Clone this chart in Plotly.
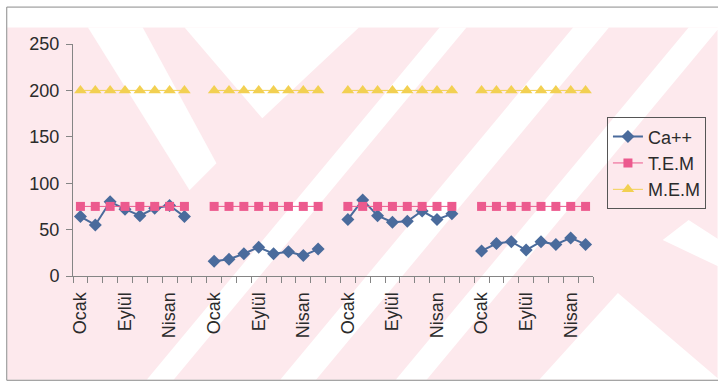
import plotly.graph_objects as go

# Four sampling series of eight months each, separated by an empty slot
ca_g1 = [64, 55, 80, 72, 65, 73, 76, 64]
ca_g2 = [16, 18, 24, 31, 24, 26, 22, 29]
ca_g3 = [61, 82, 65, 58, 59, 70, 61, 67]
ca_g4 = [27, 35, 37, 28, 37, 34, 41, 34]
tem_limit = 75
mem_limit = 200

tick_labels = ["Ocak", "Eylül", "Nisan"] * 4
label_step = 3
group_size = 8

groups = [ca_g1, ca_g2, ca_g3, ca_g4]
xs, ca, tem, mem = [], [], [], []
for gi, g in enumerate(groups):
    base = gi * (group_size + 1)
    for i, v in enumerate(g):
        xs.append(base + i)
        ca.append(v)
        tem.append(tem_limit)
        mem.append(mem_limit)
    if gi < len(groups) - 1:
        xs.append(base + group_size)
        ca.append(None)
        tem.append(None)
        mem.append(None)

n_slots = len(groups) * (group_size + 1) - 1
tick_pos = list(range(0, n_slots, label_step))

W, H = 718, 385
L, R, T, B = 73, 595, 43.5, 276


def px(x, y):
    return (x - L) / (R - L), (B - y) / (B - T)


def poly(points, color):
    pts = [px(x, y) for x, y in points]
    path = "M " + " L ".join(f"{a:.4f},{b:.4f}" for a, b in pts) + " Z"
    return dict(type="path", path=path, xref="paper", yref="paper",
                fillcolor=color, line=dict(width=0), layer="below")


# light background watermark
pink = "#fde9ed"
white = "#ffffff"
shapes = [
    poly([(7, 27), (720, 27), (720, 380), (7, 380)], pink),
    poly([(88, 27), (143, 27), (217, 163), (190, 190)], white),
    poly([(185, 27), (360, 27), (263, 118)], white),
    poly([(441, 27), (468, 27), (174, 380), (147, 380)], white),
    poly([(575, 27), (611, 27), (317, 380), (281, 380)], white),
    poly([(691, 27), (722, 27), (428, 380), (397, 380)], white),
    poly([(541, 380), (620, 293), (722, 380)], white),
    poly([(691, 220), (722, 240), (722, 267), (665, 240)], white),
    # outer frame
    dict(type="rect", xref="paper", yref="paper",
         x0=px(6.5, 0)[0], x1=px(730, 0)[0], y0=px(0, 6.5)[1], y1=px(0, 380.5)[1],
         line=dict(color="#8a8a8a", width=1), fillcolor="rgba(0,0,0,0)", layer="below"),
]

fig = go.Figure()
fig.add_trace(go.Scatter(
    x=xs, y=ca, name="Ca++", mode="lines+markers", connectgaps=False,
    line=dict(color="#4a6b9c", width=2),
    marker=dict(symbol="diamond", size=10, color="#4a6b9c"),
))
fig.add_trace(go.Scatter(
    x=xs, y=tem, name="T.E.M", mode="lines+markers", connectgaps=False,
    line=dict(color="#ec5a8e", width=1),
    marker=dict(symbol="square", size=9, color="#ec5a8e"),
))
fig.add_trace(go.Scatter(
    x=xs, y=mem, name="M.E.M", mode="lines+markers", connectgaps=False,
    line=dict(color="#f2d052", width=1),
    marker=dict(symbol="triangle-up", size=11, color="#f2d052"),
))

axis_col = "#858585"
text_col = "#2b2b2b"
font_fam = "Arial, Liberation Sans, sans-serif"

fig.update_layout(
    width=W, height=H,
    margin=dict(l=L, r=W - R, t=T, b=H - B, pad=0),
    paper_bgcolor="white",
    plot_bgcolor="rgba(0,0,0,0)",
    font=dict(family=font_fam, size=18, color=text_col),
    shapes=shapes,
    showlegend=True,
    legend=dict(
        x=px(609, 0)[0], y=px(0, 117)[1], xanchor="left", yanchor="top",
        bgcolor="rgba(0,0,0,0)", bordercolor="#555555", borderwidth=1,
        font=dict(size=18, color=text_col), tracegroupgap=0,
    ),
    xaxis=dict(
        range=[-0.5, n_slots - 0.5], showgrid=False, zeroline=False,
        showline=True, linecolor=axis_col, linewidth=1,
        tickmode="array", tickvals=tick_pos, ticktext=tick_labels,
        ticks="", tickangle=-90, tickfont=dict(size=18), ticklabelstandoff=8,
        minor=dict(tick0=-0.5, dtick=1, ticks="outside", ticklen=6,
                   tickcolor=axis_col, showgrid=False),
    ),
    yaxis=dict(
        range=[0, 250], dtick=50, showgrid=False, zeroline=False,
        showline=True, linecolor=axis_col, linewidth=1,
        ticks="outside", ticklen=6, tickcolor=axis_col,
        tickfont=dict(size=18), ticklabelstandoff=3,
    ),
)

fig.write_html("out.html")
